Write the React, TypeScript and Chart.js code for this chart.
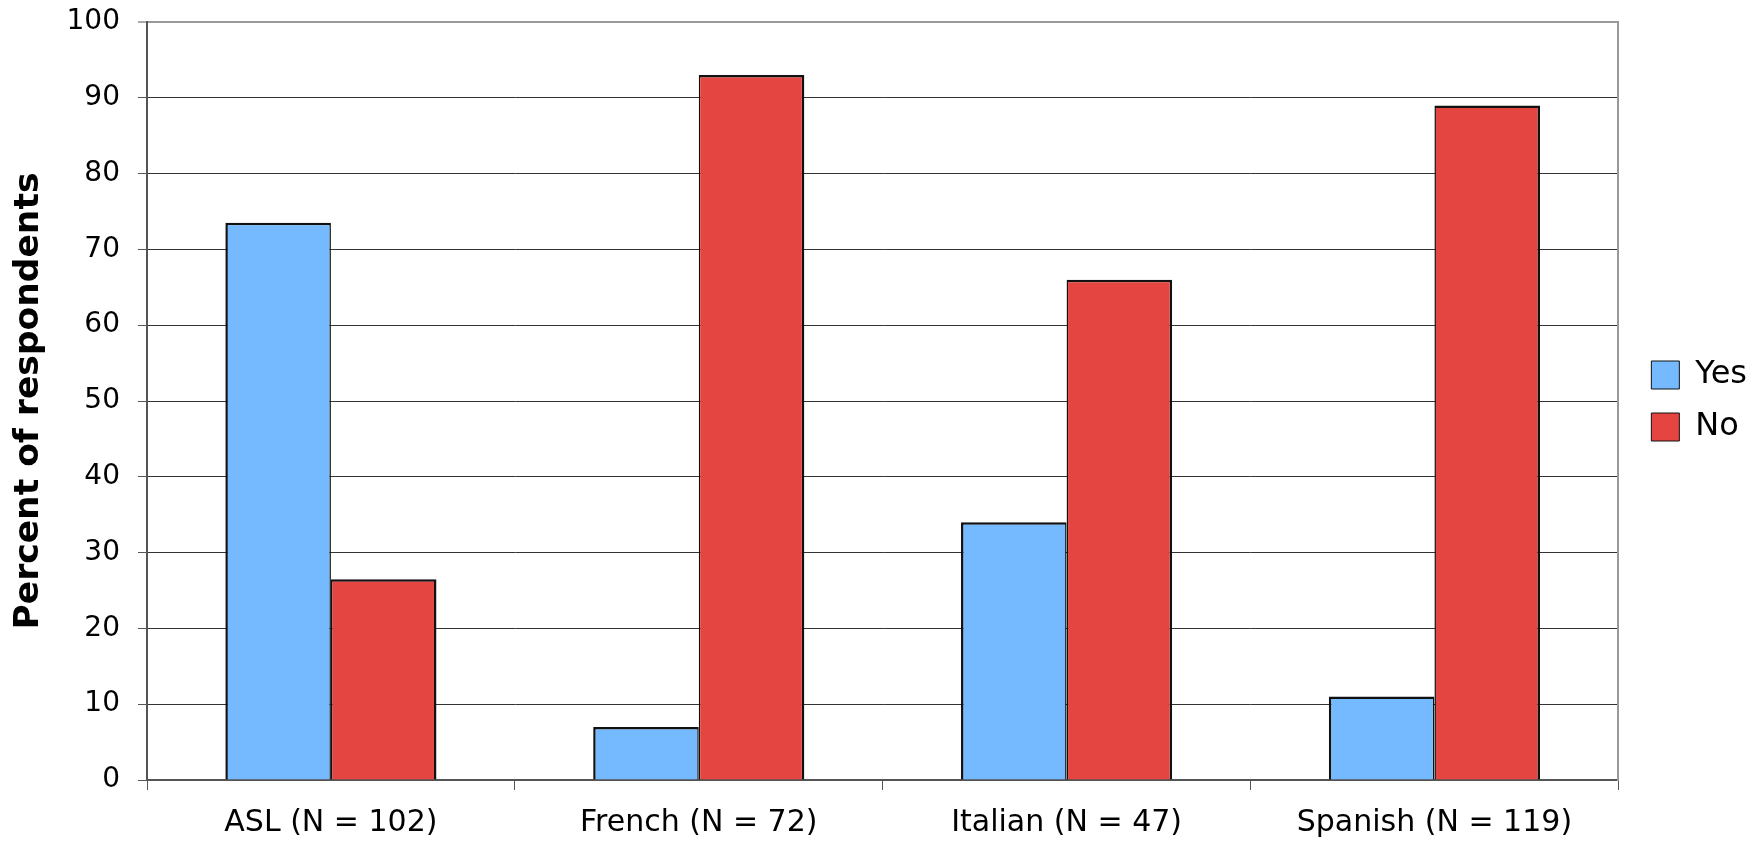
import React, { useEffect, useRef } from 'react';
import { Chart, registerables } from 'chart.js';

Chart.register(...registerables);

const categories = ['ASL (N = 102)', 'French (N = 72)', 'Italian (N = 47)', 'Spanish (N = 119)'];
const yesValues = [73.5, 7, 34, 11];
const noValues = [26.5, 93, 66, 89];
const seriesNames = ['Yes', 'No'];
const yAxisTitle = 'Percent of respondents';
const yMin = 0;
const yMax = 100;
const yStep = 10;

const FONT = "'DejaVu Sans', Verdana, sans-serif";

export default function App() {
  const ref = useRef<HTMLCanvasElement | null>(null);

  useEffect(() => {
    if (!ref.current) return;
    const chart = new Chart(ref.current, {
      type: 'bar',
      data: {
        labels: categories,
        datasets: [
          {
            label: seriesNames[0],
            data: yesValues,
            backgroundColor: '#75B9FF',
            borderColor: '#111111',
            borderWidth: { left: 2.5, top: 2.5, right: 1.5, bottom: 0 },
            borderSkipped: 'bottom',
            categoryPercentage: 0.574,
            barPercentage: 1,
          },
          {
            label: seriesNames[1],
            data: noValues,
            backgroundColor: '#E54541',
            borderColor: '#111111',
            borderWidth: { left: 1.5, top: 2.5, right: 2.5, bottom: 0 },
            borderSkipped: 'bottom',
            categoryPercentage: 0.574,
            barPercentage: 1,
          },
        ],
      },
      options: {
        animation: false,
        responsive: true,
        maintainAspectRatio: false,
        layout: { padding: { left: 0, top: 22, right: 0, bottom: 0 } },
        plugins: {
          tooltip: { enabled: false },
          legend: {
            position: 'right',
            fullSize: false,
            labels: {
              boxWidth: 28,
              boxHeight: 28,
              padding: 20,
              color: '#000',
              font: { family: FONT, size: 32 },
              generateLabels: (c: any) =>
                (Chart.defaults.plugins.legend.labels.generateLabels as any)(c).map((l: any) => ({
                  ...l,
                  lineWidth: 1,
                })),
            },
          },
        },
        scales: {
          x: {
            grid: {
              display: true,
              drawOnChartArea: false,
              drawTicks: true,
              tickLength: 10,
              offset: true,
              color: '#555',
              tickColor: '#555',
              tickWidth: 1,
            },
            border: { display: true, color: '#555', width: 2 },
            ticks: {
              color: '#000',
              font: { family: FONT, size: 30 },
              padding: 15,
              maxRotation: 0,
              autoSkip: false,
            },
            afterFit: (s: any) => {
              s.height = 61;
            },
          },
          y: {
            min: yMin,
            max: yMax,
            ticks: {
              stepSize: yStep,
              color: '#000',
              font: { family: FONT, size: 28 },
              padding: 18,
            },
            grid: {
              drawTicks: true,
              tickLength: 9,
              color: (ctx: any) => (ctx.tick && ctx.tick.value === yMax ? '#999' : '#333'),
              lineWidth: (ctx: any) => (ctx.tick && ctx.tick.value === yMax ? 2 : 1),
              tickColor: '#555',
              tickWidth: 1,
            },
            border: { display: true, color: '#555', width: 2 },
            title: {
              display: true,
              text: yAxisTitle,
              color: '#000',
              font: { family: FONT, size: 34.5, weight: 'bold' },
              padding: { top: 8, bottom: 0 },
            },
            afterFit: (s: any) => {
              s.width = 147;
              s.paddingTop = 0;
              s.paddingBottom = 0;
            },
          },
          y2: {
            position: 'right',
            display: true,
            grid: { display: false, drawTicks: false },
            ticks: { display: false },
            border: { display: true, color: '#999', width: 2 },
            afterFit: (s: any) => {
              s.width = 13;
            },
          },
        },
      },
    } as any);
    return () => chart.destroy();
  }, []);

  return (
    <div style={{ position: 'fixed', left: 0, top: 0, width: '100vw', height: '100vh', background: '#fff' }}>
      <canvas ref={ref} />
    </div>
  );
}
